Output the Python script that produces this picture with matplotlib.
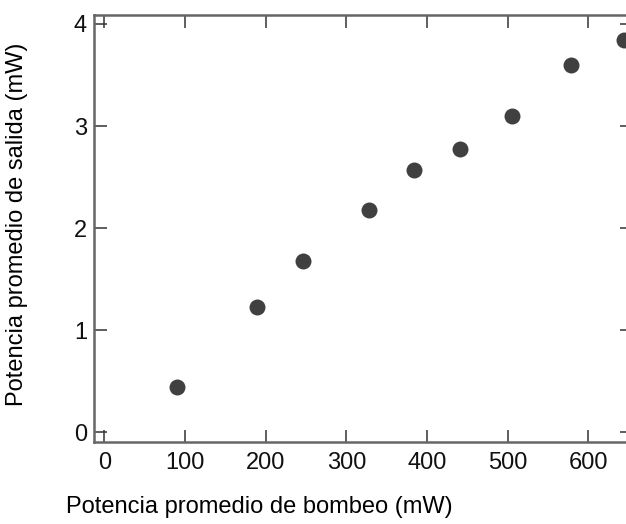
import matplotlib
matplotlib.use("Agg")
import matplotlib.pyplot as plt

# datos: potencia de bombeo vs potencia de salida
pump_mw = [90, 189, 246, 328, 384, 441, 505, 579, 644]
out_mw = [0.44, 1.23, 1.68, 2.18, 2.57, 2.78, 3.10, 3.595, 3.84]

x_ticks = [0, 100, 200, 300, 400, 500, 600]
y_ticks = [0, 1, 2, 3, 4]

plt.rcParams['font.family'] = ['Liberation Sans', 'DejaVu Sans']

fig = plt.figure(figsize=(6.26, 5.24), dpi=100)
ax = fig.add_axes([0.1502, 0.1565, 0.8594, 0.8149])

ax.plot(pump_mw, out_mw, 'o', color='#404040', markersize=11.5,
        markeredgewidth=0, clip_on=False)

ax.set_xlim(-12.8, 654)
ax.set_ylim(-0.095, 4.088)
ax.set_xticks(x_ticks)
ax.set_yticks(y_ticks)

for s in ax.spines.values():
    s.set_color('#666666')
    s.set_linewidth(1.8)

ax.tick_params(axis='both', direction='in', length=9, width=1.1,
               color='#333333', labelsize=17, labelcolor='#111111')
ax.tick_params(axis='x', top=True, pad=7)
ax.tick_params(axis='y', right=True, pad=5)

ax.set_xlabel('Potencia promedio de bombeo (mW)', fontsize=17)
ax.xaxis.set_label_coords(0.3076, -0.126)
ax.set_ylabel('Potencia promedio de salida (mW)', fontsize=17)
ax.yaxis.set_label_coords(-0.1227, 0.51)

fig.savefig('out.png', dpi=100)
